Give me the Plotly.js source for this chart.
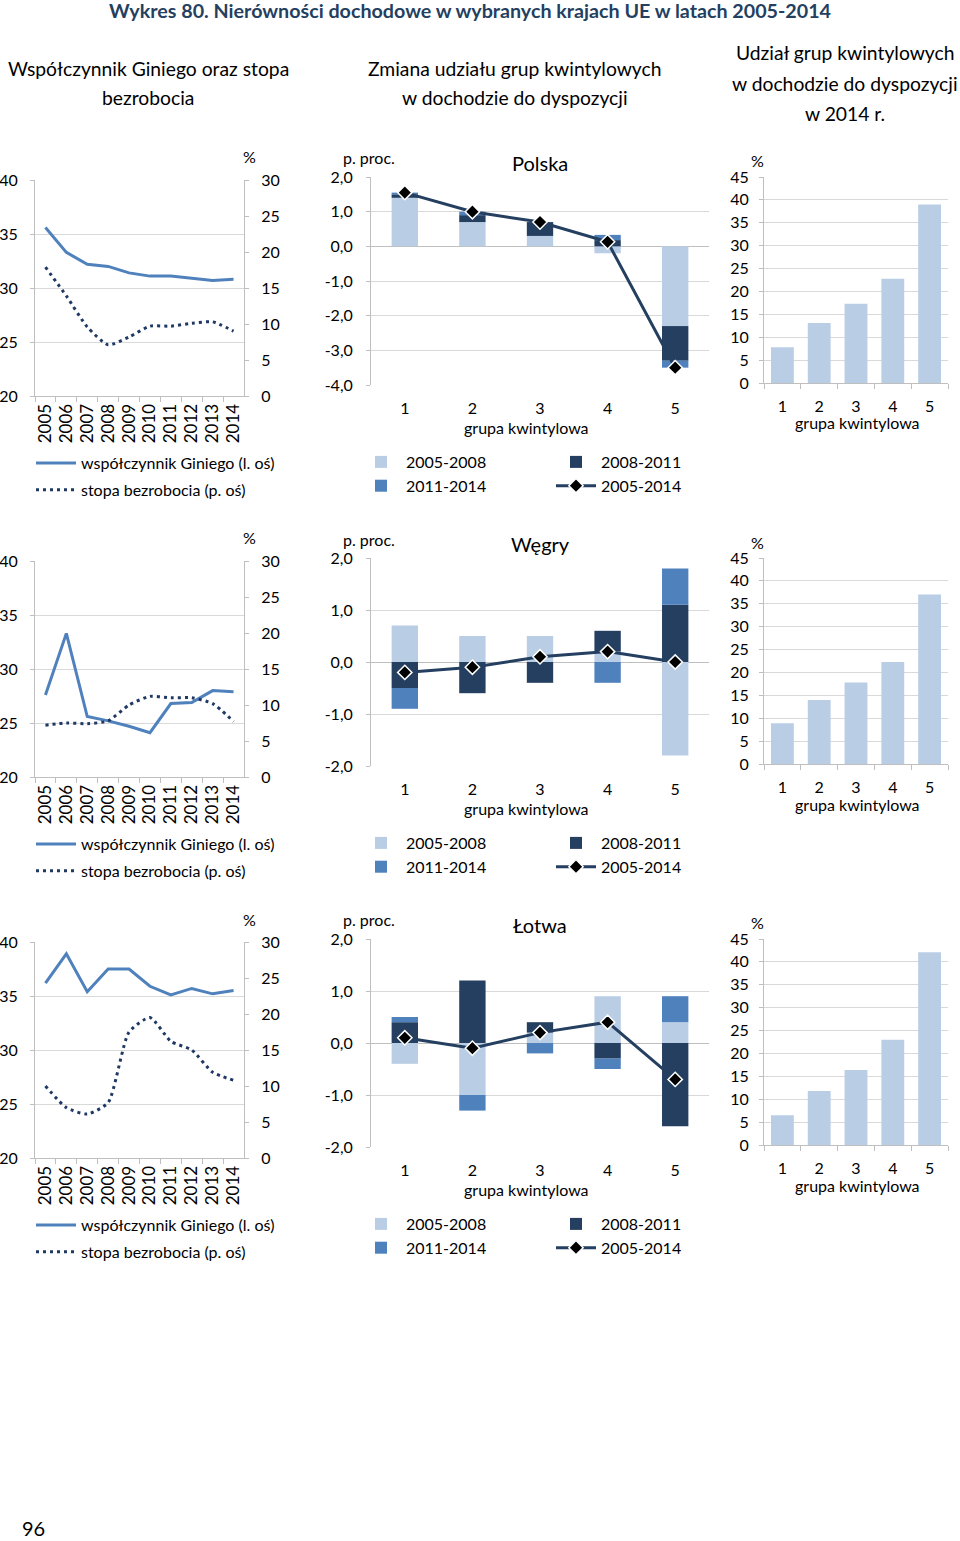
<!DOCTYPE html>
<html><head><meta charset="utf-8">
<script src="https://cdn.plot.ly/plotly-3.0.1.min.js"></script>
<style>html,body{margin:0;padding:0;background:#fff}#chart{width:960px;height:1541px}</style>
</head><body><div id="chart"></div>
<script>
// ---------- DATA ----------
const years = ['2005','2006','2007','2008','2009','2010','2011','2012','2013','2014'];
const quintiles = ['1','2','3','4','5'];
const countries = ['Polska','Węgry','Łotwa'];

const giniPL  = [35.6, 33.3, 32.2, 32.0, 31.4, 31.1, 31.1, 30.9, 30.7, 30.8];
const unempPL = [17.9, 13.9, 9.6, 7.1, 8.2, 9.7, 9.7, 10.1, 10.3, 9.0];
const giniHU  = [27.6, 33.3, 25.6, 25.2, 24.7, 24.1, 26.8, 26.9, 28.0, 27.9];
const unempHU = [7.2, 7.5, 7.4, 7.8, 10.0, 11.2, 11.0, 11.0, 10.2, 7.7];
const giniLV  = [36.2, 38.9, 35.4, 37.5, 37.5, 35.9, 35.1, 35.7, 35.2, 35.5];
const unempLV = [10.0, 7.0, 6.1, 7.7, 17.5, 19.5, 16.2, 15.0, 11.9, 10.8];

const chgPL_0508 = [1.4, 0.7, 0.3, -0.2, -2.3];
const chgPL_0811 = [0.1, 0.2, 0.4, 0.18, -1.0];
const chgPL_1114 = [0.05, 0.1, 0.0, 0.15, -0.2];
const chgPL_0514 = [1.55, 1.0, 0.7, 0.13, -3.5];

const chgHU_0508 = [0.7, 0.5, 0.5, 0.2, -1.8];
const chgHU_0811 = [-0.5, -0.6, -0.4, 0.4, 1.1];
const chgHU_1114 = [-0.4, 0.0, 0.0, -0.4, 0.7];
const chgHU_0514 = [-0.2, -0.1, 0.1, 0.2, 0.0];

const chgLV_0508 = [-0.4, -1.0, 0.2, 0.9, 0.4];
const chgLV_0811 = [0.4, 1.2, 0.2, -0.3, -1.6];
const chgLV_1114 = [0.1, -0.3, -0.2, -0.2, 0.5];
const chgLV_0514 = [0.1, -0.1, 0.2, 0.4, -0.7];

const sharePL = [7.8, 13.1, 17.3, 22.8, 39.0];
const shareHU = [8.9, 14.0, 17.8, 22.3, 37.0];
const shareLV = [6.5, 11.8, 16.4, 23.0, 42.1];

const chgTicksPL = [2, 1, 0, -1, -2, -3, -4];
const chgTickTextPL = ['2,0','1,0','0,0','-1,0','-2,0','-3,0','-4,0'];
const chgTicks = [2, 1, 0, -1, -2];
const chgTickText = ['2,0','1,0','0,0','-1,0','-2,0'];

const labels = {
  title: 'Wykres 80. Nierówności dochodowe w wybranych krajach UE w latach 2005-2014',
  gini: 'współczynnik Giniego (l. oś)',
  unemp: 'stopa bezrobocia (p. oś)',
  p0508: '2005-2008', p0811: '2008-2011', p1114: '2011-2014', p0514: '2005-2014',
  xq: 'grupa kwintylowa'
};

// ---------- STYLE ----------
const W = 960, H = 1541;
const FONT = 'Lato, "Noto Sans", sans-serif';
const GRID = '#D9D9D9', AXIS = '#BFBFBF';
const C_GINI = '#4F81BD', C_UNEMP = '#1F3864';
const C_LIGHT = '#B9CDE5', C_DARK = '#243F60', C_MED = '#4F81BD', C_LINE = '#243F60';
const ROWDY = 381;

const px = (x) => x / W;
const py = (y) => 1 - y / H;

const rows = [
  {gini: giniPL, unemp: unempPL, c0508: chgPL_0508, c0811: chgPL_0811, c1114: chgPL_1114, c0514: chgPL_0514,
   share: sharePL, range: [-4, 2], tv: chgTicksPL, tt: chgTickTextPL},
  {gini: giniHU, unemp: unempHU, c0508: chgHU_0508, c0811: chgHU_0811, c1114: chgHU_1114, c0514: chgHU_0514,
   share: shareHU, range: [-2, 2], tv: chgTicks, tt: chgTickText},
  {gini: giniLV, unemp: unempLV, c0508: chgLV_0508, c0811: chgLV_0811, c1114: chgLV_1114, c0514: chgLV_0514,
   share: shareLV, range: [-2, 2], tv: chgTicks, tt: chgTickText}
];

const data = [];
const layout = {
  width: W, height: H,
  margin: {l: 0, r: 0, t: 0, b: 0},
  paper_bgcolor: '#fff', plot_bgcolor: 'rgba(0,0,0,0)',
  font: {family: FONT, size: 16, color: '#000'},
  barmode: 'relative',
  showlegend: true,
  annotations: []
};

function ann(text, x, y, opts) {
  layout.annotations.push(Object.assign({
    text: text, xref: 'paper', yref: 'paper', x: px(x), y: py(y),
    xanchor: 'center', yanchor: 'middle', showarrow: false,
    font: {family: FONT, size: 16, color: '#000'}
  }, opts || {}));
}

ann(labels.title, 470, 11, {font: {family: FONT, size: 19.7, color: '#243F60', weight: 'bold'}});
const hf = {family: FONT, size: 19.3, color: '#000'};
ann('Współczynnik Giniego oraz stopa', 148, 68, {font: hf});
ann('bezrobocia', 148, 98, {font: hf});
ann('Zmiana udziału grup kwintylowych', 515, 68, {font: hf});
ann('w dochodzie do dyspozycji', 515, 98, {font: hf});
ann('Udział grup kwintylowych', 845, 53, {font: hf});
ann('w dochodzie do dyspozycji', 845, 83, {font: hf});
ann('w 2014 r.', 845, 113, {font: hf});
ann('96', 33, 1528, {font: {family: FONT, size: 20, color: '#000'}});

rows.forEach((r, i) => {
  const dy = i * ROWDY;
  const nL = 3 * i + 1, nM = 3 * i + 2, nR = 3 * i + 3, nU = 10 + i;
  const xL = 'x' + nL, yL = 'y' + nL, xM = 'x' + nM, yM = 'y' + nM, xR = 'x' + nR, yR = 'y' + nR, yU = 'y' + nU;
  const legL = i === 0 ? 'legend' : 'legend' + (i + 1);
  const legM1 = 'legend' + (4 + i), legM2 = 'legend' + (7 + i);

  // ---- left panel: Gini + unemployment ----
  data.push({type: 'scatter', mode: 'lines', x: years, y: r.gini, xaxis: xL, yaxis: yL,
    name: labels.gini, legend: legL, legendgroup: 'g' + i, line: {color: C_GINI, width: 3}});
  data.push({type: 'scatter', mode: 'lines', x: years, y: r.unemp, xaxis: xL, yaxis: yU,
    name: labels.unemp, legend: legL, legendgroup: 'u' + i,
    line: {color: C_UNEMP, width: 3, dash: '3px,4px', shape: 'spline', smoothing: 0.6}});

  layout['xaxis' + nL] = {domain: [px(35), px(244)], anchor: yL, type: 'category', range: [-0.5, 9.5],
    tickmode: 'linear', tick0: 0, dtick: 1,
    showline: true, linecolor: AXIS, ticks: 'outside', tickson: 'boundaries', ticklen: 5, tickcolor: AXIS,
    tickangle: -90, tickfont: {size: 17}, showgrid: false, zeroline: false, fixedrange: true};
  layout['yaxis' + nL] = {domain: [py(396 + dy), py(180 + dy)], anchor: xL, range: [20, 40], dtick: 5,
    showline: true, linecolor: AXIS, ticks: 'outside', ticklen: 4, tickcolor: AXIS, ticklabelstandoff: 9,
    showgrid: true, gridcolor: GRID, zeroline: false, tickfont: {size: 16}};
  layout['yaxis' + nU] = {overlaying: yL, side: 'right', anchor: xL, range: [0, 30], dtick: 5,
    showline: true, linecolor: AXIS, ticks: 'outside', ticklen: 4, tickcolor: AXIS, ticklabelstandoff: 9,
    showgrid: false, zeroline: false, tickfont: {size: 16}};
  ann('%', 249, 157 + dy);

  layout[legL] = {x: px(31), y: py(446 + dy), xanchor: 'left', yanchor: 'top', orientation: 'v',
    bgcolor: 'rgba(0,0,0,0)', font: {size: 16}, itemwidth: 40, traceorder: 'grouped', tracegroupgap: 3};

  // ---- middle panel: change in shares ----
  data.push({type: 'bar', x: quintiles, y: r.c0508, xaxis: xM, yaxis: yM, name: labels.p0508,
    legend: legM1, marker: {color: C_LIGHT}, width: 0.39});
  data.push({type: 'bar', x: quintiles, y: r.c0811, xaxis: xM, yaxis: yM, name: labels.p0811,
    legend: legM2, marker: {color: C_DARK}, width: 0.39});
  data.push({type: 'bar', x: quintiles, y: r.c1114, xaxis: xM, yaxis: yM, name: labels.p1114,
    legend: legM1, marker: {color: C_MED}, width: 0.39});
  data.push({type: 'scatter', mode: 'lines+markers', x: quintiles, y: r.c0514, xaxis: xM, yaxis: yM,
    name: labels.p0514, legend: legM2, line: {color: C_LINE, width: 3},
    marker: {symbol: 'diamond', size: 11, color: '#000', line: {color: '#fff', width: 1.5}}});

  layout['xaxis' + nM] = {domain: [px(371), px(709)], anchor: yM, type: 'category',
    showline: false, ticks: '', showgrid: false, zeroline: false, ticklabelstandoff: 12, tickfont: {size: 16}};
  layout['yaxis' + nM] = {domain: [py(385 + dy), py(177 + dy)], anchor: xM, range: r.range,
    tickmode: 'array', tickvals: r.tv, ticktext: r.tt,
    showline: true, linecolor: AXIS, ticks: 'outside', ticklen: 4, tickcolor: AXIS, ticklabelstandoff: 10,
    showgrid: true, gridcolor: GRID, zeroline: true, zerolinecolor: AXIS, zerolinewidth: 1, tickfont: {size: 16}};
  ann('p. proc.', 369, 158 + dy);
  ann(countries[i], 540, 163 + dy, {font: {family: FONT, size: 20, color: '#000'}});
  ann(labels.xq, 526, 427 + dy);

  layout[legM1] = {x: px(356), y: py(445 + dy), xanchor: 'left', yanchor: 'top', orientation: 'v',
    bgcolor: 'rgba(0,0,0,0)', font: {size: 16}, itemwidth: 40, tracegroupgap: 0};
  layout[legM2] = {x: px(551), y: py(445 + dy), xanchor: 'left', yanchor: 'top', orientation: 'v',
    bgcolor: 'rgba(0,0,0,0)', font: {size: 16}, itemwidth: 40, tracegroupgap: 0};

  // ---- right panel: 2014 shares ----
  data.push({type: 'bar', x: quintiles, y: r.share, xaxis: xR, yaxis: yR, name: '2014',
    showlegend: false, marker: {color: C_LIGHT}, width: 0.62});
  layout['xaxis' + nR] = {domain: [px(764), px(948)], anchor: yR, type: 'category',
    showline: true, linecolor: AXIS, ticks: 'outside', tickson: 'boundaries', ticklen: 5, tickcolor: AXIS,
    showgrid: false, zeroline: false, ticklabelstandoff: 9, tickfont: {size: 16}};
  layout['yaxis' + nR] = {domain: [py(383 + dy), py(177 + dy)], anchor: xR, range: [0, 45], dtick: 5,
    showline: true, linecolor: AXIS, ticks: 'outside', ticklen: 4, tickcolor: AXIS, ticklabelstandoff: 7,
    showgrid: true, gridcolor: GRID, zeroline: false, tickfont: {size: 16}};
  ann('%', 757, 161 + dy);
  ann(labels.xq, 857, 423 + dy);
});

Plotly.newPlot('chart', data, layout, {staticPlot: true, displayModeBar: false});
</script>
</body></html>
